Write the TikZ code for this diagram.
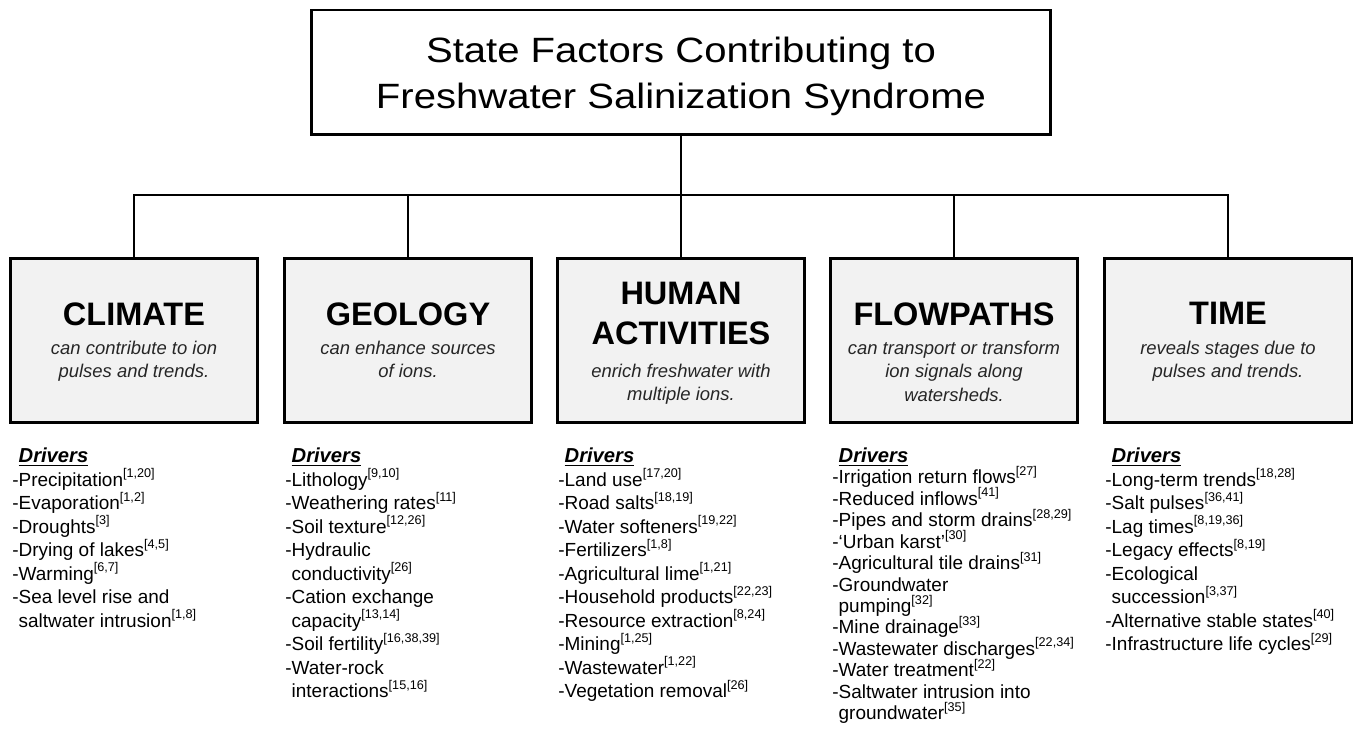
\documentclass[tikz,border=0pt]{standalone}
\usepackage{fontspec}
\setmainfont{Liberation Sans}
\newfontfamily\titlefont[FakeStretch=1.14]{Liberation Sans}
\usepackage{xcolor}
\usepackage{tikz}

\definecolor{boxgray}{HTML}{F2F2F2}
\newcommand{\rf}[1]{\smash{\raisebox{0.85ex}{\fontsize{7.2}{7.2}\selectfont[#1]}}}
\newcommand{\drvhead}{\phantom{-}{\fontsize{11.5}{13.3}\selectfont\underline{\textbf{\textit{Drivers}}}}}
\newcommand{\cont}{\phantom{-}}

\begin{document}
\begin{tikzpicture}[x=0.02cm, y=-0.02cm,
        titlebox/.style = {draw, line width=1.7pt,
            minimum width=14.8cm, minimum height=2.5cm,
            align=center, inner sep=0pt,
            font=\titlefont\fontsize{20}{26.6}\selectfont},
        factor/.style = {draw, line width=1.7pt, fill=boxgray,
            minimum width=4.96cm, minimum height=3.3cm},
        head/.style = {anchor=north, align=center, inner sep=0pt,
            font=\bfseries\fontsize{18.5}{22.7}\selectfont},
        sub/.style = {anchor=north, align=center, inner sep=0pt,
            text=black!85, font=\itshape\fontsize{10.5}{13.4}\selectfont},
        drvlist/.style = {anchor=north west, align=left, inner sep=0pt,
            font=\fontsize{10.8}{13.4}\selectfont},
        link/.style = {line width=1.2pt}]

        \useasboundingbox (0,0) rectangle (1355,756);

        % Title
        \node[titlebox] (title) at (681,72.5)
            {\rule{0pt}{19pt}State Factors Contributing to\\Freshwater Salinization Syndrome};

        % Factor boxes
        \node[factor] (climate) at (134,340.5) {};
        \node[factor] (geology) at (408,340.5) {};
        \node[factor] (human) at (681,340.5) {};
        \node[factor] (flowpaths) at (954,340.5) {};
        \node[factor] (time) at (1228,340.5) {};

        % Tree connectors
        \coordinate (bus) at (681,195);
        \draw[link] (title) -- (bus);
        \foreach \f in {climate,geology,human,flowpaths,time}
            \draw[link] (\f.north) |- (bus);

        % Box headings
        \node[head] (climate-h) at (134,302) {CLIMATE};
        \node[sub] (climate-s) at (134,340.5) {can contribute to ion\\pulses and trends.};

        \node[head] (geology-h) at (408,302) {GEOLOGY};
        \node[sub] (geology-s) at (408,340.5) {can enhance sources\\of ions.};

        \node[head] (human-h) at (681,282) {HUMAN\\ACTIVITIES};
        \node[sub] (human-s) at (681,363.5) {enrich freshwater with\\multiple ions.};

        \node[head] (flowpaths-h) at (954,302) {FLOWPATHS};
        \node[sub] (flowpaths-s) at (954,340.5) {can transport or transform\\ion signals along\\watersheds.};

        \node[head] (time-h) at (1228,302) {TIME};
        \node[sub] (time-s) at (1228,340.5) {reveals stages due to\\pulses and trends.};

        % Driver lists
        \node[drvlist] (climate-d) at (12,447.5) {\drvhead\\
            -Precipitation\rf{1,20}\\
            -Evaporation\rf{1,2}\\
            -Droughts\rf{3}\\
            -Drying of lakes\rf{4,5}\\
            -Warming\rf{6,7}\\
            -Sea level rise and\\
            \cont saltwater intrusion\rf{1,8}};

        \node[drvlist] (geology-d) at (285,447.5) {\drvhead\\
            -Lithology\rf{9,10}\\
            -Weathering rates\rf{11}\\
            -Soil texture\rf{12,26}\\
            -Hydraulic\\
            \cont conductivity\rf{26}\\
            -Cation exchange\\
            \cont capacity\rf{13,14}\\
            -Soil fertility\rf{16,38,39}\\
            -Water-rock\\
            \cont interactions\rf{15,16}};

        \node[drvlist] (human-d) at (558,447.5) {\drvhead\\
            -Land use\rf{17,20}\\
            -Road salts\rf{18,19}\\
            -Water softeners\rf{19,22}\\
            -Fertilizers\rf{1,8}\\
            -Agricultural lime\rf{1,21}\\
            -Household products\rf{22,23}\\
            -Resource extraction\rf{8,24}\\
            -Mining\rf{1,25}\\
            -Wastewater\rf{1,22}\\
            -Vegetation removal\rf{26}};

        \node[drvlist, font=\fontsize{10.8}{12.2}\selectfont] (flowpaths-d) at (832,447.5) {\drvhead\\
            -Irrigation return flows\rf{27}\\
            -Reduced inflows\rf{41}\\
            -Pipes and storm drains\rf{28,29}\\
            -‘Urban karst’\rf{30}\\
            -Agricultural tile drains\rf{31}\\
            -Groundwater\\
            \cont pumping\rf{32}\\
            -Mine drainage\rf{33}\\
            -Wastewater discharges\rf{22,34}\\
            -Water treatment\rf{22}\\
            -Saltwater intrusion into\\
            \cont groundwater\rf{35}};

        \node[drvlist] (time-d) at (1105,447.5) {\drvhead\\
            -Long-term trends\rf{18,28}\\
            -Salt pulses\rf{36,41}\\
            -Lag times\rf{8,19,36}\\
            -Legacy effects\rf{8,19}\\
            -Ecological\\
            \cont succession\rf{3,37}\\
            -Alternative stable states\rf{40}\\
            -Infrastructure life cycles\rf{29}};

    \end{tikzpicture}
\end{document}
